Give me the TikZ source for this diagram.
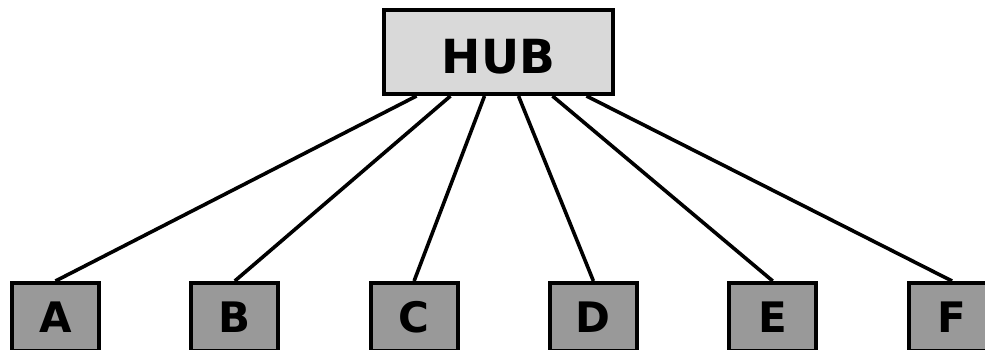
\documentclass[tikz,border=0pt]{standalone}
\usepackage{fontspec}
\setmainfont{DejaVu Sans}
\usetikzlibrary{calc}
\definecolor{hubfill}{HTML}{D9D9D9}
\definecolor{leaffill}{HTML}{999999}
\begin{document}
\begin{tikzpicture}[x=1pt,y=1pt,
  hubbox/.style={draw=black, line width=4pt, fill=hubfill, inner sep=0pt,
    minimum width=229pt, minimum height=84pt,
    font=\fontsize{47}{50}\selectfont\bfseries, text height=42pt, text depth=0pt},
  leafbox/.style={draw=black, line width=4pt, fill=leaffill, inner sep=0pt,
    minimum width=87pt, minimum height=68pt,
    font=\fontsize{42}{44}\selectfont\bfseries},
  link/.style={draw=black, line width=3.6pt}]
\useasboundingbox (0,0) rectangle (985,349);
\clip (0,0) rectangle (985,349);
\node[hubbox] (hub) at (498.5,297) {HUB};
\foreach \name [count=\i from 0] in {A,B,C,D,E,F} {
  \node[leafbox] (\name) at ({55.5+179.3*\i},32) {\name};
  \coordinate (s\name) at ($(hub.south)+({-82+34*\i},0)$);
  \draw[link] (s\name) -- (\name.north);
}
\end{tikzpicture}
\end{document}
